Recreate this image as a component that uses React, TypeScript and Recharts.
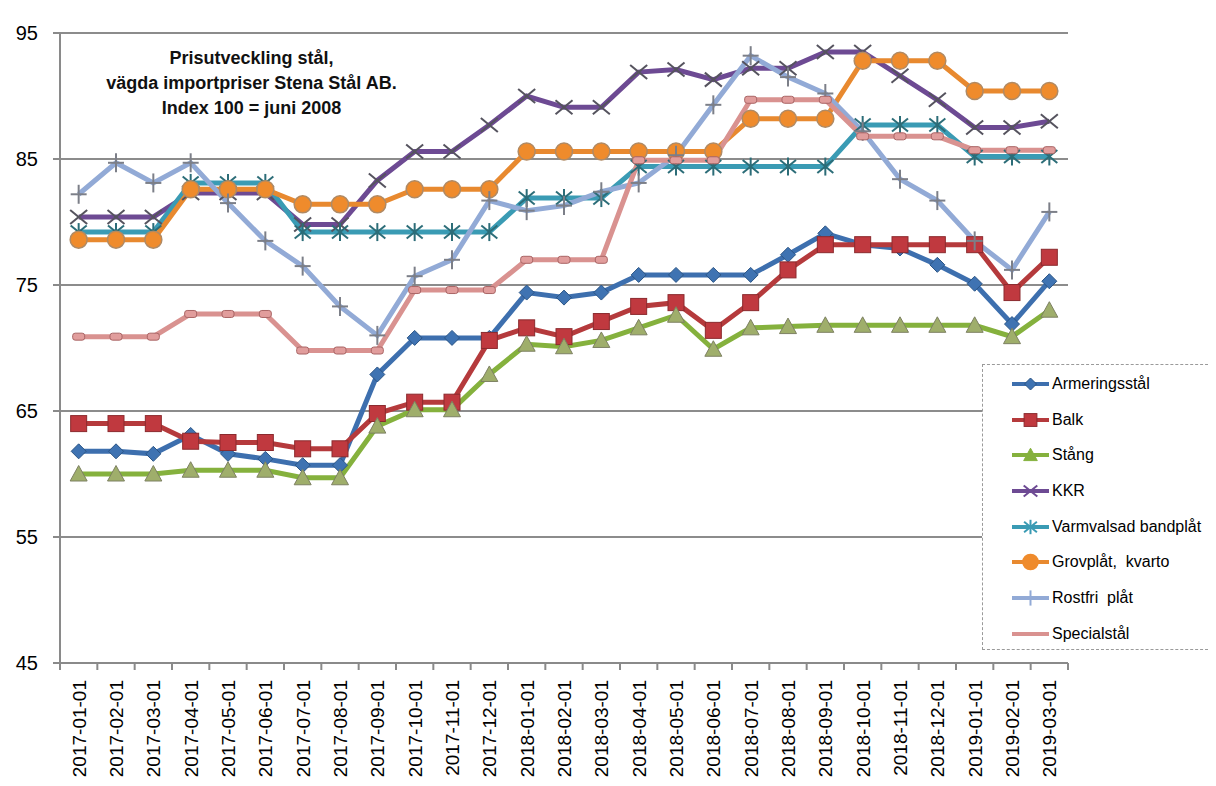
import React from 'react';
import { LineChart, Line, XAxis, YAxis, CartesianGrid, Legend } from 'recharts';

const months = [
  '2017-01-01', '2017-02-01', '2017-03-01', '2017-04-01', '2017-05-01', '2017-06-01',
  '2017-07-01', '2017-08-01', '2017-09-01', '2017-10-01', '2017-11-01', '2017-12-01',
  '2018-01-01', '2018-02-01', '2018-03-01', '2018-04-01', '2018-05-01', '2018-06-01',
  '2018-07-01', '2018-08-01', '2018-09-01', '2018-10-01', '2018-11-01', '2018-12-01',
  '2019-01-01', '2019-02-01', '2019-03-01',
];

const armering = [61.8, 61.8, 61.6, 63.1, 61.6, 61.2, 60.7, 60.7, 67.9, 70.8, 70.8, 70.8, 74.4, 74.0, 74.4, 75.8, 75.8, 75.8, 75.8, 77.4, 79.1, 78.2, 77.9, 76.6, 75.1, 71.9, 75.3];
const balk = [64.0, 64.0, 64.0, 62.6, 62.5, 62.5, 62.0, 62.0, 64.8, 65.7, 65.7, 70.6, 71.6, 70.9, 72.1, 73.3, 73.6, 71.4, 73.6, 76.2, 78.2, 78.2, 78.2, 78.2, 78.2, 74.4, 77.2];
const stang = [60.0, 60.0, 60.0, 60.3, 60.3, 60.3, 59.7, 59.7, 63.8, 65.1, 65.1, 67.9, 70.3, 70.1, 70.6, 71.6, 72.6, 69.9, 71.6, 71.7, 71.8, 71.8, 71.8, 71.8, 71.8, 70.9, 73.0];
const kkr = [80.4, 80.4, 80.4, 82.3, 82.3, 82.3, 79.8, 79.8, 83.3, 85.6, 85.6, 87.7, 90.0, 89.1, 89.1, 91.9, 92.1, 91.3, 92.2, 92.2, 93.5, 93.5, 91.6, 89.7, 87.5, 87.5, 88.0];
const varmvalsad = [79.2, 79.2, 79.2, 83.1, 83.1, 83.1, 79.2, 79.2, 79.2, 79.2, 79.2, 79.2, 81.9, 81.9, 81.9, 84.4, 84.4, 84.4, 84.4, 84.4, 84.4, 87.7, 87.7, 87.7, 85.2, 85.2, 85.2];
const grovplat = [78.6, 78.6, 78.6, 82.6, 82.6, 82.6, 81.4, 81.4, 81.4, 82.6, 82.6, 82.6, 85.6, 85.6, 85.6, 85.6, 85.6, 85.6, 88.2, 88.2, 88.2, 92.8, 92.8, 92.8, 90.4, 90.4, 90.4];
const rostfri = [82.2, 84.7, 83.1, 84.7, 81.5, 78.5, 76.5, 73.3, 71.0, 75.7, 77.0, 81.7, 80.9, 81.3, 82.4, 83.1, 85.3, 89.3, 93.2, 91.5, 90.2, 87.2, 83.4, 81.7, 78.5, 76.2, 80.8];
const special = [70.9, 70.9, 70.9, 72.7, 72.7, 72.7, 69.8, 69.8, 69.8, 74.6, 74.6, 74.6, 77.0, 77.0, 77.0, 84.9, 84.9, 84.9, 89.7, 89.7, 89.7, 86.8, 86.8, 86.8, 85.7, 85.7, 85.7];

const yTicks = [45, 55, 65, 75, 85, 95];

const data = months.map((month, i) => ({
  month,
  armering: armering[i],
  balk: balk[i],
  stang: stang[i],
  kkr: kkr[i],
  varmvalsad: varmvalsad[i],
  grovplat: grovplat[i],
  rostfri: rostfri[i],
  special: special[i],
}));

const series = [
  { key: 'armering', name: 'Armeringsstål', color: '#3d6fae', marker: 'diamond' },
  { key: 'balk', name: 'Balk', color: '#b53a3c', marker: 'square' },
  { key: 'stang', name: 'Stång', color: '#85b13d', marker: 'triangle' },
  { key: 'kkr', name: 'KKR', color: '#6d4a93', marker: 'x' },
  { key: 'varmvalsad', name: 'Varmvalsad bandplåt', color: '#3a9bb4', marker: 'star' },
  { key: 'grovplat', name: 'Grovplåt,  kvarto', color: '#e8892f', marker: 'circle' },
  { key: 'rostfri', name: 'Rostfri  plåt', color: '#92aad6', marker: 'plus' },
  { key: 'special', name: 'Specialstål', color: '#d99290', marker: 'pill' },
];

const FONT = '"Liberation Sans", Arial, sans-serif';
const AXIS = '#8a8a8a';
const WIDTH = 1200;
const HEIGHT = 770;
const MARGIN = { top: 25, right: 140, left: 0, bottom: 0 };
const Y_W = 52;
const BAND = (WIDTH - MARGIN.right - Y_W) / months.length;

function Marker({ shape, cx, cy, legend }: { shape: string; cx: number; cy: number; legend?: boolean }) {
  const s = legend ? 0.8 : 1;
  switch (shape) {
    case 'diamond':
      return <polygon points={`${cx},${cy - 7.5 * s} ${cx + 7.5 * s},${cy} ${cx},${cy + 7.5 * s} ${cx - 7.5 * s},${cy}`} fill="#3f73b2" stroke="#2b5585" strokeWidth={1} />;
    case 'square':
      return <rect x={cx - 8 * s} y={cy - 8 * s} width={16 * s} height={16 * s} fill="#c0393f" stroke="#8b2a2e" strokeWidth={1} />;
    case 'triangle':
      return <polygon points={`${cx},${cy - 8.5 * s} ${cx + 8.5 * s},${cy + 7 * s} ${cx - 8.5 * s},${cy + 7 * s}`} fill={legend ? '#85b13d' : '#9fae6b'} stroke={legend ? '#85b13d' : '#7d8062'} strokeWidth={1} />;
    case 'x':
      return (
        <g stroke={legend ? '#6d4a93' : '#55535e'} strokeWidth={2}>
          <line x1={cx - 8.5 * s} y1={cy - 7 * s} x2={cx + 8.5 * s} y2={cy + 7 * s} />
          <line x1={cx - 8.5 * s} y1={cy + 7 * s} x2={cx + 8.5 * s} y2={cy - 7 * s} />
        </g>
      );
    case 'star':
      return (
        <g stroke={legend ? '#3a9bb4' : '#2c6d78'} strokeWidth={2}>
          <line x1={cx - 8 * s} y1={cy - 6.5 * s} x2={cx + 8 * s} y2={cy + 6.5 * s} />
          <line x1={cx - 8 * s} y1={cy + 6.5 * s} x2={cx + 8 * s} y2={cy - 6.5 * s} />
          <line x1={cx} y1={cy - 9 * s} x2={cx} y2={cy + 9 * s} />
        </g>
      );
    case 'circle':
      return <circle cx={cx} cy={cy} r={(legend ? 9.5 : 8.5) * s} fill="#ef8b2c" stroke={legend ? '#ef8b2c' : '#b08a64'} strokeWidth={1.5} />;
    case 'plus':
      return (
        <g stroke={legend ? '#92aad6' : '#7c7f88'} strokeWidth={2}>
          <line x1={cx} y1={cy - 9.5 * s} x2={cx} y2={cy + 9.5 * s} />
          <line x1={cx - 8 * s} y1={cy} x2={cx + 8 * s} y2={cy} />
        </g>
      );
    case 'pill':
      if (legend) return <g />;
      return <rect x={cx - 6} y={cy - 3.5} width={12} height={7} rx={2.5} fill="#e19d9c" stroke="#a96565" strokeWidth={1} />;
    default:
      return <g />;
  }
}

const makeDot = (shape: string) => (props: any) => {
  const { cx, cy, index } = props;
  if (cx == null || cy == null) return <g key={`${shape}-${index}`} />;
  return <Marker key={`${shape}-${index}`} shape={shape} cx={cx} cy={cy} />;
};

function XTick(props: any) {
  const { x, y, payload, index } = props;
  const left = x - BAND / 2;
  return (
    <g>
      <line x1={left} x2={left} y1={y} y2={y + 7} stroke={AXIS} strokeWidth={2} />
      {index === months.length - 1 && (
        <line x1={x + BAND / 2} x2={x + BAND / 2} y1={y} y2={y + 7} stroke={AXIS} strokeWidth={2} />
      )}
      <text
        x={x + 7}
        y={y + 17}
        transform={`rotate(-90, ${x + 7}, ${y + 17})`}
        textAnchor="end"
        fontSize={19}
        fontFamily={FONT}
        fill="#000"
      >
        {payload.value}
      </text>
    </g>
  );
}

function LegendBox() {
  return (
    <div
      style={{
        width: 231,
        height: 286,
        border: '1px dashed #9a9a9a',
        background: '#fff',
        paddingTop: 1,
        boxSizing: 'border-box',
        fontFamily: FONT,
      }}
    >
      {series.map((s) => (
        <div key={s.key} style={{ height: 35.7, display: 'flex', alignItems: 'center', paddingLeft: 29 }}>
          <svg width={40} height={22} style={{ flex: 'none' }}>
            <line x1={0} x2={37} y1={11} y2={11} stroke={s.color} strokeWidth={4} />
            <Marker shape={s.marker} cx={18.5} cy={11} legend />
          </svg>
          <span style={{ fontSize: 16, color: '#000', whiteSpace: 'pre' }}>{s.name}</span>
        </div>
      ))}
    </div>
  );
}

export default function App() {
  return (
    <div style={{ position: 'relative', width: WIDTH, height: HEIGHT, fontFamily: FONT }}>
      <LineChart width={WIDTH} height={HEIGHT} data={data} margin={MARGIN}>
        <CartesianGrid vertical={false} stroke="#8c8c8c" strokeWidth={2} />
        <XAxis
          dataKey="month"
          interval={0}
          height={115}
          padding={{ left: BAND / 2, right: BAND / 2 }}
          tickLine={false}
          tickSize={0}
          tickMargin={0}
          axisLine={{ stroke: AXIS, strokeWidth: 2 }}
          tick={<XTick />}
        />
        <YAxis
          width={Y_W}
          domain={[45, 95]}
          ticks={yTicks}
          interval={0}
          tickSize={7}
          tickMargin={15}
          axisLine={{ stroke: AXIS, strokeWidth: 2 }}
          tickLine={{ stroke: AXIS, strokeWidth: 2 }}
          tick={{ fill: '#000', fontSize: 20, fontFamily: FONT }}
        />
        <Legend
          layout="vertical"
          align="center"
          verticalAlign="middle"
          content={<LegendBox />}
          wrapperStyle={{ left: 974, top: 356, width: 231, height: 286 }}
        />
        {series.map((s) => (
          <Line
            key={s.key}
            dataKey={s.key}
            name={s.name}
            type="linear"
            stroke={s.color}
            strokeWidth={5}
            dot={makeDot(s.marker)}
            activeDot={false}
            isAnimationActive={false}
          />
        ))}
      </LineChart>
      <div
        style={{
          position: 'absolute',
          left: 43.5,
          top: 37.5,
          width: 400,
          textAlign: 'center',
          fontWeight: 'bold',
          fontSize: 18,
          lineHeight: '25px',
          color: '#111',
          pointerEvents: 'none',
        }}
      >
        Prisutveckling stål,
        <br />
        vägda importpriser Stena Stål AB.
        <br />
        Index 100 = juni 2008
      </div>
    </div>
  );
}
